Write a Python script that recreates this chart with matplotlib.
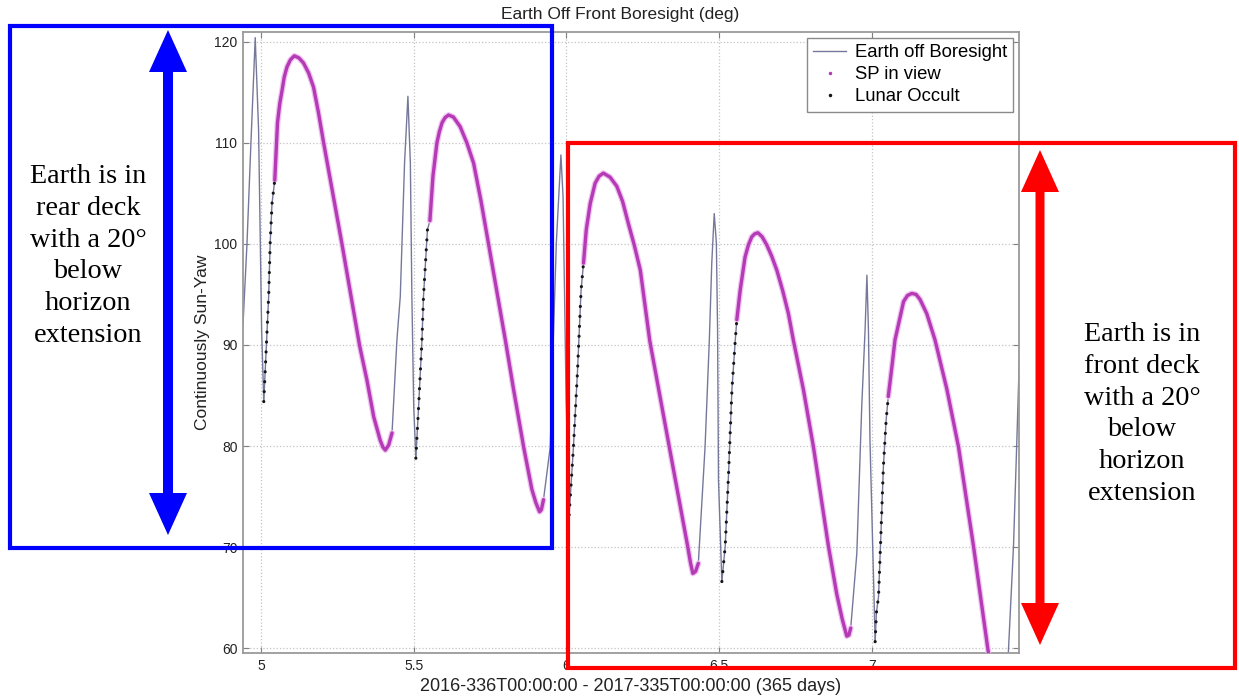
# Earth Off Front Boresight, continuously sun-yaw
import numpy as np
import matplotlib
matplotlib.use("Agg")
import matplotlib.pyplot as plt
from matplotlib.lines import Line2D
from matplotlib.patches import Rectangle, Polygon

plt.rcParams['font.family'] = ['Liberation Sans', 'DejaVu Sans']

nan = np.nan

# gray spikes between the dotted branches (deg)
spike_x = [[4.941, 4.954, 4.967, 4.981, 4.992, 5.002, 5.009],
           [5.429, 5.445, 5.456, 5.470, 5.481, 5.489, 5.494, 5.500, 5.507],
           [5.925, 5.947, 5.957, 5.967, 5.982, 5.989, 5.994, 5.999, 6.009],
           [6.432, 6.454, 6.468, 6.476, 6.484, 6.491, 6.495, 6.498, 6.509],
           [6.931, 6.951, 6.967, 6.978, 6.984, 6.989, 6.994, 7.011],
           [7.387, 7.410, 7.447, 7.464, 7.475, 7.484]]
spike_y = [[92.0, 100.0, 110.0, 120.4, 111.3, 91.5, 84.4],
           [81.3, 90.5, 94.8, 108.0, 114.6, 108.0, 94.8, 83.9, 78.8],
           [74.7, 79.9, 90.5, 100.1, 108.8, 104.7, 94.8, 84.6, 73.2],
           [68.4, 79.9, 90.5, 98.1, 103.0, 100.1, 91.5, 76.6, 66.6],
           [62.0, 69.4, 83.9, 91.5, 96.9, 91.5, 80.6, 60.65],
           [58.3, 54.9, 59.5, 70.1, 80.6, 89.5]]

# Lunar occult branches
lunar_x = [[5.009, 5.025, 5.030, 5.036, 5.045],
           [5.507, 5.516, 5.527, 5.532, 5.545, 5.553],
           [6.009, 6.023, 6.036, 6.048, 6.056],
           [6.509, 6.520, 6.531, 6.542, 6.553, 6.558],
           [7.011, 7.015, 7.022, 7.030, 7.038, 7.047, 7.054]]
lunar_y = [[84.4, 94.8, 100.1, 104.0, 106.3],
           [78.8, 83.9, 90.5, 94.8, 101.4, 102.3],
           [73.2, 79.9, 87.2, 95.4, 98.1],
           [66.6, 70.1, 77.3, 85.6, 90.5, 92.5],
           [60.65, 63.5, 65.1, 71.4, 78.0, 82.6, 84.9]]

# SP in view branches
sp_x = [[5.045, 5.054, 5.0615, 5.069, 5.076, 5.085, 5.096, 5.109, 5.124, 5.139, 5.156, 5.172,
         5.188, 5.205, 5.265, 5.323, 5.347, 5.369, 5.390, 5.399, 5.407, 5.418, 5.429],
        [5.553, 5.563, 5.576, 5.584, 5.593, 5.603, 5.614, 5.630, 5.652, 5.674, 5.696, 5.720,
         5.745, 5.800, 5.827, 5.860, 5.887, 5.900, 5.912, 5.918, 5.925],
        [6.056, 6.065, 6.078, 6.094, 6.107, 6.121, 6.143, 6.165, 6.184, 6.203, 6.222, 6.242,
         6.273, 6.337, 6.397, 6.406, 6.414, 6.423, 6.432],
        [6.558, 6.569, 6.585, 6.596, 6.607, 6.617, 6.627, 6.641, 6.656, 6.672, 6.689, 6.708,
         6.727, 6.743, 6.776, 6.809, 6.858, 6.885, 6.903, 6.918, 6.925, 6.931],
        [7.054, 7.066, 7.076, 7.093, 7.104, 7.117, 7.131, 7.145, 7.158, 7.180, 7.207, 7.246,
         7.284, 7.333, 7.382, 7.387]]
sp_y = [[106.3, 112.0, 113.9, 115.2, 116.5, 117.5, 118.2, 118.6, 118.4, 117.9, 116.9, 115.5,
         113.0, 110.0, 100.0, 89.9, 86.5, 82.9, 80.6, 79.9, 79.6, 80.1, 81.3],
        [102.3, 106.7, 110.0, 111.1, 112.0, 112.5, 112.75, 112.55, 111.6, 110.0, 108.0, 104.3,
         100.0, 90.5, 85.6, 79.9, 75.7, 74.4, 73.5, 73.7, 74.7],
        [98.1, 101.4, 104.0, 106.0, 106.7, 107.0, 106.6, 105.7, 104.2, 102.0, 99.9, 97.4,
         90.4, 79.9, 70.1, 68.5, 67.4, 67.6, 68.4],
        [92.5, 95.4, 98.7, 99.9, 100.7, 101.0, 101.1, 100.7, 99.9, 98.8, 97.4, 95.4,
         93.1, 90.5, 85.6, 79.9, 70.1, 65.4, 62.9, 61.2, 61.3, 62.0],
        [84.9, 87.9, 90.5, 92.8, 94.3, 94.9, 95.1, 95.0, 94.5, 93.1, 90.5, 85.6,
         79.9, 70.1, 59.5, 58.3]]

x_ticks = [5, 5.5, 6, 6.5, 7]
x_ticklabels = ['5', '5.5', '6', '6.5', '7']
y_ticks = [60, 70, 80, 90, 100, 110, 120]

W, H = 1239, 696
GRAY = '#76789a'
MAG = '#b43ab6'


def fx(px):  # pixel -> figure fraction
    return px / W


def fy(py):
    return 1 - py / H


def joined(parts):  # one polyline per series, nan between pieces
    out = []
    for p in parts:
        out += p + [nan]
    return out[:-1]


fig = plt.figure(figsize=(W / 100, H / 100), dpi=100)
ax = fig.add_axes([fx(243), fy(653), fx(1019) - fx(243), fy(32) - fy(653)])

# the whole track in gray, then the dotted classes on top
for i in range(len(spike_x)):
    ax.plot(spike_x[i], spike_y[i], color=GRAY, lw=1.0, zorder=2)
for i in range(len(lunar_x)):
    ax.plot(lunar_x[i], lunar_y[i], color=GRAY, lw=1.0, zorder=2)
ax.plot(joined(sp_x), joined(sp_y), color='#efc2f0', lw=4.2, solid_capstyle='round',
        solid_joinstyle='round', zorder=3)
ax.plot(joined(sp_x), joined(sp_y), color=MAG, lw=2.4, solid_capstyle='round',
        solid_joinstyle='round', zorder=3)
ax.plot(joined(lunar_x), joined(lunar_y), color='#151515', lw=2.3,
        linestyle=(0, (0.01, 3.1)), dash_capstyle='round', zorder=4)

ax.set_xlim(4.941, 7.482)
ax.set_ylim(59.53, 120.96)
ax.set_xticks(x_ticks)
ax.set_xticklabels(x_ticklabels)
ax.set_yticks(y_ticks)
ax.grid(True, color='#c4c4c4', linestyle=':', linewidth=0.9)
ax.tick_params(direction='in', length=4, width=0.8, color='#808080',
               top=True, right=True, labelsize=10, labelcolor='#222222', pad=4)
for s in ax.spines.values():
    s.set_color('#9a9a9a')
    s.set_linewidth(1.3)

ax.set_title('Earth Off Front Boresight (deg)', fontsize=12.5, color='#222222',
             pad=9, x=(620 - 243) / (1019 - 243))
ax.set_xlabel('2016-336T00:00:00 - 2017-335T00:00:00 (365 days)', fontsize=13,
              color='#222222', labelpad=4)
ax.set_ylabel('Continuously Sun-Yaw', fontsize=12.5, color='#222222', labelpad=3)

handles = [Line2D([], [], color=GRAY, lw=1.0),
           Line2D([], [], ls='none', marker='.', ms=3, color=MAG),
           Line2D([], [], ls='none', marker='.', ms=3, color='#151515')]
leg = ax.legend(handles, ['Earth off Boresight', 'SP in view', 'Lunar Occult'],
                loc='upper right', fontsize=13.3, fancybox=False, framealpha=1,
                edgecolor='#8a8a8a', borderaxespad=0.3, labelspacing=0.28,
                handlelength=1.8, handletextpad=0.45, borderpad=0.35)
leg.get_frame().set_linewidth(1.0)


def double_arrow(xc, top, bottom, shaft, head_w, head_l, color):
    pts = [(xc, top), (xc + head_w / 2, top + head_l), (xc + shaft / 2, top + head_l),
           (xc + shaft / 2, bottom - head_l), (xc + head_w / 2, bottom - head_l),
           (xc, bottom), (xc - head_w / 2, bottom - head_l), (xc - shaft / 2, bottom - head_l),
           (xc - shaft / 2, top + head_l), (xc - head_w / 2, top + head_l)]
    fig.add_artist(Polygon([(fx(a), fy(b)) for a, b in pts], closed=True,
                           facecolor=color, edgecolor='none',
                           transform=fig.transFigure, zorder=5))


# blue (rear deck) box
fig.add_artist(Rectangle((fx(10), fy(548)), fx(552) - fx(10), fy(25.5) - fy(548),
                         fill=False, edgecolor='#0000ff', lw=3.0,
                         transform=fig.transFigure, zorder=5))
double_arrow(168, 30, 535, 10, 38, 42, '#0000ff')
fig.text(fx(88), fy(256), 'Earth is in\nrear deck\nwith a 20°\nbelow\nhorizon\nextension',
         family='Liberation Serif', fontsize=20.3, ha='center', va='center',
         linespacing=1.36, color='black')

# red (front deck) box
fig.add_artist(Rectangle((fx(568), fy(668)), fx(1235) - fx(568), fy(142.5) - fy(668),
                         fill=False, edgecolor='#ff0000', lw=3.0,
                         transform=fig.transFigure, zorder=5))
double_arrow(1040, 150, 645, 9, 38, 42, '#ff0000')
fig.text(fx(1142), fy(414), 'Earth is in\nfront deck\nwith a 20°\nbelow\nhorizon\nextension',
         family='Liberation Serif', fontsize=20.3, ha='center', va='center',
         linespacing=1.36, color='black')

fig.savefig('out.png', dpi=100)
